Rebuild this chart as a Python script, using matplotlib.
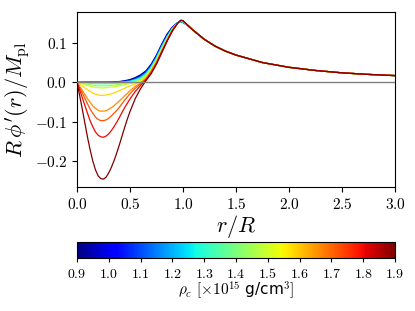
import matplotlib
matplotlib.use("Agg")
import matplotlib.pyplot as plt
from matplotlib.ticker import FuncFormatter

plt.rcParams["mathtext.fontset"] = "cm"
plt.rcParams["font.family"] = "serif"
plt.rcParams["font.serif"] = ["DejaVu Serif"]

# central densities (x 10^15 g/cm^3) of the plotted stars
rho_c = [0.90, 1.00, 1.10, 1.20, 1.28, 1.36, 1.43, 1.50, 1.58, 1.66, 1.72, 1.80, 1.90]

# interior radii r/R (shared by all curves)
r_in = [0.0, 0.025, 0.05, 0.075, 0.10, 0.125, 0.15, 0.175, 0.20, 0.225, 0.25,
        0.275, 0.30, 0.325, 0.35, 0.375, 0.40, 0.425, 0.45, 0.475, 0.50,
        0.55, 0.60, 0.65, 0.70, 0.75, 0.80, 0.85, 0.90, 0.95, 0.98, 1.00]

phi_090 = [0, 0, 0, 0, 0, 0, 0, 0, 0, 0, 0, 0, 0.0002, 0.0005, 0.0008, 0.0013,
           0.002, 0.003, 0.004, 0.0055, 0.007,
           0.012, 0.019, 0.029, 0.046, 0.069, 0.097, 0.122, 0.140, 0.151, 0.153, 0.152]
phi_100 = [0, 0, 0, 0, 0, 0, 0, 0, 0, 0, 0, 0, 0.0001, 0.0003, 0.0005, 0.0009,
           0.0013, 0.002, 0.003, 0.004, 0.005,
           0.010, 0.017, 0.027, 0.044, 0.067, 0.095, 0.120, 0.139, 0.151, 0.153, 0.152]
phi_110 = [0, 0, 0, 0, 0, 0, 0, 0, 0, 0, 0, 0, 0, 0, 0.0002, 0.0004,
           0.0008, 0.0013, 0.002, 0.003, 0.004,
           0.008, 0.015, 0.025, 0.042, 0.065, 0.093, 0.118, 0.138, 0.151, 0.153, 0.152]
phi_120 = [0, 0, 0, 0, 0, 0, 0, 0, 0, 0, 0, 0, 0, 0, 0, 0.0001,
           0.0003, 0.0007, 0.0012, 0.002, 0.003,
           0.007, 0.013, 0.023, 0.040, 0.063, 0.091, 0.116, 0.137, 0.151, 0.154, 0.153]
phi_128 = [0, -0.0002, -0.0004, -0.0006, -0.0008, -0.001, -0.0012, -0.0013,
           -0.0014, -0.0015, -0.0015, -0.0015, -0.0014, -0.0012, -0.001, -0.0008,
           -0.0005, -0.0002, 0.0, 0.001, 0.002,
           0.006, 0.011, 0.021, 0.038, 0.061, 0.089, 0.114, 0.136, 0.151, 0.154, 0.153]
phi_136 = [0, -0.0005, -0.001, -0.0017, -0.0023, -0.0028, -0.0033, -0.0036,
           -0.0039, -0.004, -0.004, -0.0039, -0.0038, -0.0035, -0.003, -0.0025,
           -0.002, -0.0015, -0.001, 0.0, 0.001,
           0.004, 0.009, 0.019, 0.036, 0.059, 0.087, 0.113, 0.135, 0.150, 0.154, 0.153]
phi_143 = [0, -0.0012, -0.0025, -0.0038, -0.005, -0.0063, -0.0073, -0.0082,
           -0.0087, -0.009, -0.009, -0.0088, -0.0085, -0.008, -0.007, -0.006,
           -0.0055, -0.0045, -0.0035, -0.002, -0.001,
           0.002, 0.007, 0.017, 0.034, 0.057, 0.085, 0.111, 0.134, 0.150, 0.155, 0.154]
phi_150 = [0, -0.002, -0.004, -0.006, -0.008, -0.0098, -0.0114, -0.0127,
           -0.0135, -0.014, -0.014, -0.0137, -0.013, -0.012, -0.011, -0.010,
           -0.009, -0.0075, -0.006, -0.0045, -0.003,
           0.000, 0.005, 0.015, 0.032, 0.055, 0.083, 0.110, 0.133, 0.150, 0.155, 0.154]
phi_158 = [0, -0.0045, -0.009, -0.014, -0.019, -0.023, -0.027, -0.030, -0.032,
           -0.033, -0.033, -0.032, -0.031, -0.029, -0.027, -0.024, -0.021,
           -0.018, -0.015, -0.012, -0.009,
           -0.004, 0.001, 0.012, 0.030, 0.053, 0.081, 0.108, 0.132, 0.150, 0.156, 0.155]
phi_166 = [0, -0.010, -0.020, -0.031, -0.042, -0.051, -0.060, -0.066, -0.071,
           -0.073, -0.073, -0.072, -0.068, -0.064, -0.059, -0.053, -0.047,
           -0.041, -0.034, -0.028, -0.021,
           -0.010, -0.002, 0.010, 0.028, 0.051, 0.079, 0.107, 0.132, 0.150, 0.156, 0.155]
phi_172 = [0, -0.013, -0.027, -0.041, -0.055, -0.068, -0.079, -0.088, -0.094,
           -0.097, -0.097, -0.095, -0.091, -0.085, -0.078, -0.071, -0.063,
           -0.054, -0.045, -0.037, -0.029,
           -0.015, -0.004, 0.008, 0.026, 0.050, 0.078, 0.106, 0.131, 0.150, 0.157, 0.156]
phi_180 = [0, -0.019, -0.039, -0.059, -0.079, -0.098, -0.113, -0.126, -0.134,
           -0.138, -0.139, -0.136, -0.130, -0.122, -0.112, -0.101, -0.089,
           -0.076, -0.064, -0.053, -0.042,
           -0.023, -0.008, 0.006, 0.024, 0.048, 0.077, 0.105, 0.131, 0.150, 0.157, 0.156]
phi_190 = [0, -0.033, -0.068, -0.104, -0.140, -0.172, -0.200, -0.222, -0.237,
           -0.244, -0.245, -0.240, -0.229, -0.215, -0.198, -0.179, -0.158,
           -0.136, -0.114, -0.093, -0.074,
           -0.041, -0.016, 0.004, 0.022, 0.046, 0.075, 0.104, 0.130, 0.150, 0.157, 0.156]

# exterior tail, common to all stars
r_out = [1.05, 1.10, 1.20, 1.30, 1.40, 1.50, 1.75, 2.00, 2.25, 2.50, 2.75, 3.00]
phi_out = [0.143, 0.131, 0.109, 0.092, 0.079, 0.069, 0.050, 0.038, 0.030,
           0.024, 0.020, 0.017]

profiles = [phi_090, phi_100, phi_110, phi_120, phi_128, phi_136, phi_143,
            phi_150, phi_158, phi_166, phi_172, phi_180, phi_190]

fig = plt.figure(figsize=(4.15, 3.11), dpi=100)
ax = fig.add_axes([0.1855, 0.3987, 0.7663, 0.5627])
cax = fig.add_axes([0.1855, 0.1704, 0.7663, 0.0514])

cmap = plt.get_cmap("jet")
norm = plt.Normalize(0.9, 1.9)

ax.axhline(0, color="gray", lw=1.0, zorder=3)
for rho, prof in zip(rho_c, profiles):
    ax.plot(r_in + r_out, prof + phi_out, color=cmap(norm(rho)), lw=0.9, zorder=2)

ax.set_xlim(0, 3)
ax.set_ylim(-0.265, 0.178)
ax.set_xticks([0, 0.5, 1.0, 1.5, 2.0, 2.5, 3.0])
ax.set_yticks([-0.2, -0.1, 0.0, 0.1])
fmt = FuncFormatter(lambda v, p: r"$%.1f$" % v if abs(v) > 1e-9 else r"$0.0$")
ax.xaxis.set_major_formatter(fmt)
ax.yaxis.set_major_formatter(fmt)
ax.tick_params(labelsize=11)
ax.set_xlabel(r"$r/R$", fontsize=16, labelpad=1)
ax.set_ylabel(r"$R\,\phi'(r)/M_{\rm pl}$", fontsize=16, labelpad=2)

sm = plt.cm.ScalarMappable(cmap=cmap, norm=norm)
cb = fig.colorbar(sm, cax=cax, orientation="horizontal")
cb.set_ticks([0.9, 1.0, 1.1, 1.2, 1.3, 1.4, 1.5, 1.6, 1.7, 1.8, 1.9])
cb.ax.xaxis.set_major_formatter(fmt)
cb.ax.tick_params(labelsize=10, length=3)
cb.set_label(r"$\rho_c$ $[\times10^{15}$ g/cm$^3]$", fontsize=11,
             family="DejaVu Sans", labelpad=-1)

fig.savefig("out.png", dpi=100)
